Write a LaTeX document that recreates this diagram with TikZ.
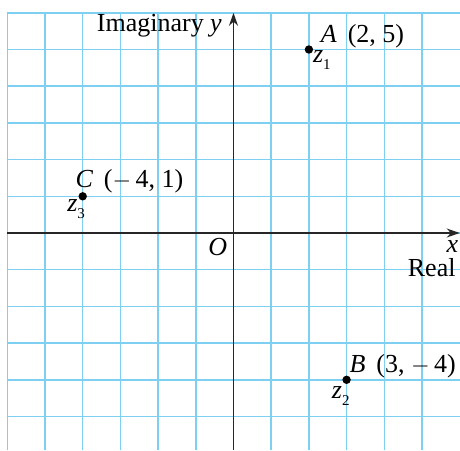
\documentclass[tikz,border=0pt]{standalone}
\usepackage{fontspec}
\setmainfont{Liberation Serif}
\usepackage{xcolor}
\usetikzlibrary{arrows.meta,positioning}

\definecolor{gridblue}{RGB}{125,208,242}
\newcommand{\zsub}[1]{\textit{z}\raisebox{-3.6pt}{\fontsize{7.5}{8}\selectfont #1}}
\newcommand{\mns}{$-$\,}

\begin{document}
\begin{tikzpicture}[
  x=18.85pt, y=18.35pt,
  font=\fontsize{13}{15}\selectfont, >={Stealth[length=6.5pt,width=4.5pt]},
  gridline/.style={gridblue, line width=0.75pt},
  axis/.style={->, line width=0.9pt, black!85},
  dot/.style={circle, fill=black, inner sep=0pt, minimum size=4.2pt},
  lbl/.style={inner sep=0pt},
]
\useasboundingbox (-6.194,-5.913) rectangle (6.008,6.349);

% grid
\foreach \i in {-6,...,5} \draw[gridline] (\i,-5.913) -- (\i,6);
\foreach \j in {-5,...,6} \draw[gridline] (-6,\j) -- (6.008,\j);

% axes
\coordinate (xl) at (-6,0);
\coordinate (xr) at (6.0,0);
\coordinate (yb) at (0,-5.913);
\coordinate (yt) at (0,6);
\draw[axis] (xl) -- (xr);
\draw[axis] (yb) -- (yt);

\node[lbl, anchor=base east] (ylab) at (-0.3,5.49) {Imaginary \textit{y}};
\node[lbl, anchor=base east] (xlab) at (5.97,-0.54) {\textit{x}};
\node[lbl, anchor=base east] (real) at (5.9,-1.18) {Real};
\node[lbl, anchor=base east] (orig) at (-0.16,-0.62) {\textit{O}};

% points
\node[dot] (ptA) at (2,5) {};
\node[dot] (ptB) at (3,-4) {};
\node[dot] (ptC) at (-4,1) {};

\node[lbl, anchor=base west] (labA) at (2.31,5.18) {\textit{A}\, (2, 5)};
\node[lbl, anchor=base west] (zA) at (2.1,4.64) {\zsub{1}};
\node[lbl, anchor=base west] (labB) at (3.07,-3.81) {\textit{B}\, (3, \mns4)};
\node[lbl, anchor=base west] (zB) at (2.6,-4.5) {\zsub{2}};
\node[lbl, anchor=base west] (labC) at (-4.2,1.23) {\textit{C}\, (\mns4, 1)};
\node[lbl, anchor=base west] (zC) at (-4.42,0.59) {\zsub{3}};
\end{tikzpicture}
\end{document}
